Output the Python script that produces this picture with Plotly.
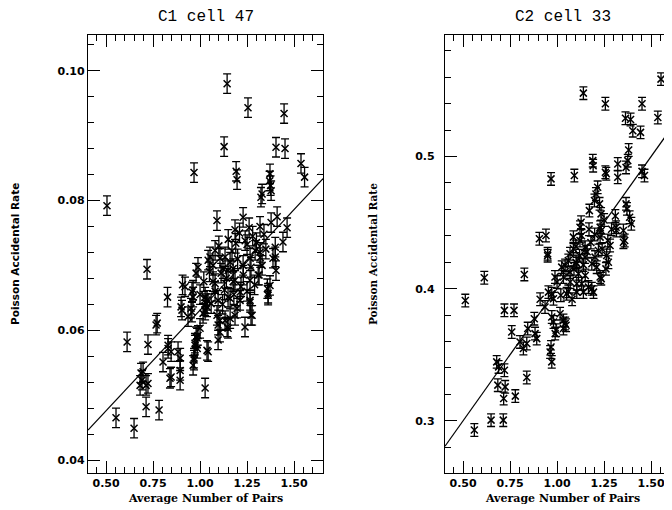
import plotly.graph_objects as go

# ---------------- data ----------------
c1_x = [0.505, 0.968, 1.144, 1.128, 1.255, 1.447, 1.404, 1.452, 1.537, 1.556,
        1.192, 1.197, 1.090, 1.372, 1.375, 1.378, 1.370, 1.324, 1.330, 1.229,
        1.186, 1.261, 1.319, 1.378, 1.463, 1.441, 1.293, 1.319, 1.400, 1.400,
        1.404, 1.372, 1.362, 1.314, 1.080, 1.053, 1.133, 1.190, 1.240, 0.989,
        0.979, 0.920, 0.963, 0.963, 1.027, 1.080, 1.112, 1.149, 1.186, 1.218,
        1.271, 1.266, 1.266, 1.213, 1.149, 1.096, 1.059, 1.027, 0.899, 0.952,
        0.718, 0.827, 0.766, 0.772, 0.612, 0.723, 0.907, 0.957, 0.904, 0.957,
        0.830, 0.846, 0.803, 0.883, 0.894, 0.894, 0.894, 0.846, 0.697, 0.691,
        0.723, 0.681, 0.713, 0.713, 0.782, 0.553, 0.649, 1.027, 1.043, 0.963,
        0.968, 0.973, 0.984, 1.000, 0.989, 1.016, 1.037, 1.037, 1.090, 1.096,
        1.096, 1.144, 1.106, 1.160, 1.197, 1.239, 1.277, 1.266, 1.309, 1.358,
        1.362, 1.388, 1.176, 1.213, 1.160, 1.069, 1.069, 1.122, 1.176, 1.229,
        1.266, 1.106, 1.043, 0.686, 0.830, 0.840, 1.037, 0.973, 0.968, 0.979,
        0.985, 1.106, 1.149, 1.186, 1.271, 1.133, 0.936, 1.027, 1.032,
        1.100, 1.150, 1.170, 1.210, 1.250, 1.280, 1.300, 1.340, 1.350, 1.130,
        1.180, 1.230, 1.250, 1.290, 1.330, 1.120, 1.080, 1.020, 1.000, 1.050,
        1.200, 1.160, 1.140, 1.320, 1.410]
c1_y = [0.0792, 0.0843, 0.0980, 0.0883, 0.0943, 0.0934, 0.0882, 0.0880, 0.0857, 0.0836,
        0.0845, 0.0832, 0.0769, 0.0841, 0.0823, 0.0815, 0.0830, 0.0805, 0.0810, 0.0774,
        0.0755, 0.0758, 0.0760, 0.0766, 0.0758, 0.0736, 0.0723, 0.0720, 0.0728, 0.0713,
        0.0692, 0.0669, 0.0654, 0.0685, 0.0723, 0.0713, 0.0713, 0.0734, 0.0738, 0.0697,
        0.0688, 0.0667, 0.0662, 0.0651, 0.0651, 0.0672, 0.0688, 0.0692, 0.0677, 0.0667,
        0.0697, 0.0677, 0.0646, 0.0646, 0.0651, 0.0646, 0.0641, 0.0638, 0.0636, 0.0634,
        0.0694, 0.0651, 0.0608, 0.0611, 0.0582, 0.0578, 0.0670, 0.0659, 0.0631, 0.0628,
        0.0577, 0.0567, 0.0551, 0.0567, 0.0557, 0.0538, 0.0523, 0.0528, 0.0536, 0.0523,
        0.0518, 0.0515, 0.0515, 0.0482, 0.0477, 0.0465, 0.0449, 0.0511, 0.0567, 0.0546,
        0.0557, 0.0577, 0.0588, 0.0603, 0.0592, 0.0626, 0.0636, 0.0646, 0.0623, 0.0608,
        0.0585, 0.0605, 0.0615, 0.0618, 0.0634, 0.0605, 0.0623, 0.0643, 0.0685, 0.0664,
        0.0657, 0.0711, 0.0675, 0.0659, 0.0649, 0.0675, 0.0700, 0.0695, 0.0695, 0.0700,
        0.0711, 0.0711, 0.0708, 0.0534, 0.0572, 0.0526, 0.0569, 0.0580, 0.0554, 0.0590,
        0.0572, 0.0597, 0.0603, 0.0623, 0.0623, 0.0615, 0.0621, 0.0631, 0.0641,
        0.0730, 0.0740, 0.0722, 0.0750, 0.0732, 0.0745, 0.0735, 0.0748, 0.0725, 0.0662,
        0.0655, 0.0685, 0.0660, 0.0670, 0.0700, 0.0640, 0.0660, 0.0675, 0.0655, 0.0690,
        0.0710, 0.0705, 0.0680, 0.0712, 0.0775]
c1_err = 0.0015
c1_fit = (0.0321, 0.0310)   # intercept, slope

c2_x = [1.140, 1.257, 1.452, 1.553, 1.536, 1.364, 1.391, 1.403, 1.444, 1.381,
        1.376, 1.367, 1.323, 1.323, 1.190, 1.192, 1.257, 1.262, 0.968, 1.092,
        1.452, 1.465, 1.367, 1.372, 1.386, 1.395, 1.360, 1.314, 1.207, 1.199,
        1.226, 1.216, 1.172, 1.128, 1.234, 1.235, 0.906, 0.941, 1.122, 1.353,
        1.353, 1.316, 1.229, 1.270, 1.282, 1.273, 1.264, 1.229, 1.220, 1.202,
        1.185, 1.211, 1.229, 1.185, 1.149, 1.149, 1.122, 1.087, 1.087, 1.069,
        1.060, 1.105, 1.114, 1.131, 1.105, 1.069, 1.043, 1.025, 1.034, 0.989,
        0.972, 0.950, 0.613, 0.826, 0.512, 0.910, 1.167, 0.720, 0.771, 0.759,
        0.679, 0.689, 0.720, 0.685, 0.724, 0.716, 0.778, 0.839, 0.649, 0.714,
        0.560, 0.803, 0.821, 0.839, 0.844, 0.883, 0.892, 0.879, 0.936, 0.954,
        0.981, 0.972, 0.981, 0.990, 1.016, 1.034, 1.034, 1.043, 0.968, 0.963,
        0.972, 1.051, 1.105, 1.140, 1.194, 1.235, 1.101, 0.995, 1.048, 0.950,
        1.070, 1.090, 1.120, 1.140, 1.160, 1.180, 1.200, 1.240, 1.260, 1.150,
        1.100, 1.130, 1.170, 1.250, 1.290, 1.310, 1.000, 1.020, 1.060, 1.080]
c2_y = [0.5480, 0.5400, 0.5400, 0.5586, 0.5296, 0.5290, 0.5280, 0.5196, 0.5183, 0.5050,
        0.4969, 0.4918, 0.4944, 0.4843, 0.4969, 0.4931, 0.4881, 0.4870, 0.4831, 0.4856,
        0.4888, 0.4856, 0.4642, 0.4604, 0.4541, 0.4491, 0.4365, 0.4465, 0.4717, 0.4667,
        0.4642, 0.4767, 0.4591, 0.4503, 0.4566, 0.4440, 0.4378, 0.4403, 0.4465, 0.4440,
        0.4352, 0.4440, 0.4465, 0.4365, 0.4327, 0.4200, 0.4251, 0.4390, 0.4289, 0.4239,
        0.4189, 0.4163, 0.4088, 0.4000, 0.4314, 0.4239, 0.4365, 0.4390, 0.4302, 0.4264,
        0.4214, 0.4189, 0.4113, 0.4038, 0.4038, 0.4125, 0.4176, 0.4163, 0.4088, 0.4088,
        0.3962, 0.4264, 0.4083, 0.4108, 0.3910, 0.3920, 0.4012, 0.3836, 0.3836, 0.3672,
        0.3446, 0.3408, 0.3383, 0.3270, 0.3257, 0.3169, 0.3187, 0.3328, 0.3005, 0.3005,
        0.2930, 0.3597, 0.3547, 0.3585, 0.3698, 0.3660, 0.3622, 0.3773, 0.3861, 0.3974,
        0.3924, 0.3786, 0.3748, 0.3660, 0.3811, 0.3760, 0.3698, 0.3736, 0.3559, 0.3521,
        0.3446, 0.3962, 0.3974, 0.3974, 0.3974, 0.4076, 0.4200, 0.3685, 0.3723, 0.4250,
        0.4050, 0.4150, 0.4250, 0.4180, 0.4280, 0.4350, 0.4410, 0.4300, 0.4150, 0.4100,
        0.4320, 0.4400, 0.4450, 0.4520, 0.4450, 0.4550, 0.4050, 0.3950, 0.3980, 0.3920]
c2_err = 0.0048
c2_fit = (0.2000, 0.2000)   # intercept, slope

titles = ["C1 cell 47", "C2 cell 33"]
x_title = "Average Number of Pairs"
y_title = "Poisson Accidental Rate"

x_range = [0.404, 1.654]
c1_yrange = [0.038, 0.1055]
c2_yrange = [0.2605, 0.592]

# ---------------- figure ----------------
OFF = 8            # page body margin offset
W, H = 674, 502
L1, R1 = 88, 323
L2, R2 = 445, 680
TOP, BOT = 35, 473

def fx(px):
    return (px - OFF) / W

def fy(py):
    return (H - (py - OFF)) / H

fig = go.Figure()

marker = dict(symbol="x-thin", size=7, color="black", line=dict(color="black", width=1.5))

for xs, ys, err, fit, xa, ya in [(c1_x, c1_y, c1_err, c1_fit, "x", "y"),
                                  (c2_x, c2_y, c2_err, c2_fit, "x2", "y2")]:
    fig.add_trace(go.Scatter(
        x=xs, y=ys, mode="markers", marker=marker, xaxis=xa, yaxis=ya,
        error_y=dict(type="constant", value=err, color="black", thickness=1.3, width=4),
        showlegend=False, hoverinfo="x+y"))
    fig.add_trace(go.Scatter(
        x=x_range, y=[fit[0] + fit[1] * v for v in x_range], mode="lines",
        line=dict(color="black", width=1.2), xaxis=xa, yaxis=ya,
        showlegend=False, hoverinfo="skip"))

tickfont = dict(family="DejaVu Sans", size=11, color="black", weight="bold")
common = dict(showline=True, linecolor="black", linewidth=1.3, mirror="allticks",
              ticks="inside", ticklen=12, tickwidth=1.2, tickcolor="black",
              showgrid=False, zeroline=False, tickfont=tickfont, automargin=False)

xaxis_common = dict(common, range=x_range, tick0=0.5, dtick=0.25, tickformat=".2f",
                    minor=dict(dtick=0.05, tick0=0.5, ticks="inside", ticklen=6,
                               tickwidth=1.1, tickcolor="black", showgrid=False))

fig.update_layout(
    width=W, height=H,
    margin=dict(l=0, r=0, t=0, b=0),
    paper_bgcolor="white", plot_bgcolor="white",
    xaxis=dict(xaxis_common, domain=[fx(L1), fx(R1)], anchor="y"),
    xaxis2=dict(xaxis_common, domain=[fx(L2), fx(R2)], anchor="y2"),
    yaxis=dict(common, domain=[fy(BOT), fy(TOP)], anchor="x", range=c1_yrange,
               tick0=0.04, dtick=0.02, tickformat=".2f",
               minor=dict(dtick=0.004, tick0=0.04, ticks="inside", ticklen=6,
                          tickwidth=1.1, tickcolor="black", showgrid=False)),
    yaxis2=dict(common, domain=[fy(BOT), fy(TOP)], anchor="x2", range=c2_yrange,
                tick0=0.3, dtick=0.1, tickformat=".1f", ticklabelstandoff=7,
                minor=dict(dtick=0.02, tick0=0.3, ticks="inside", ticklen=6,
                           tickwidth=1.1, tickcolor="black", showgrid=False)),
)

annos = []
for t, (l, r) in zip(titles, [(L1, R1), (L2, R2)]):
    annos.append(dict(text=t, x=fx((l + r) / 2), y=fy(17), xref="paper", yref="paper",
                      showarrow=False, xanchor="center", yanchor="middle",
                      font=dict(family="Liberation Mono", size=16, color="black")))
    annos.append(dict(text=x_title, x=fx((l + r) / 2), y=fy(498), xref="paper", yref="paper",
                      showarrow=False, xanchor="center", yanchor="middle",
                      font=dict(family="DejaVu Serif", size=11, color="black", weight="bold")))
annos.append(dict(text=y_title, x=fx(15), y=fy(254), xref="paper", yref="paper",
                  showarrow=False, textangle=-90, xanchor="center", yanchor="middle",
                  font=dict(family="DejaVu Sans", size=10.5, color="black", weight="bold")))
annos.append(dict(text=y_title, x=fx(373), y=fy(254), xref="paper", yref="paper",
                  showarrow=False, textangle=-90, xanchor="center", yanchor="middle",
                  font=dict(family="DejaVu Serif", size=10.5, color="black", weight="bold")))
fig.update_layout(annotations=annos)

fig.write_html("out.html")
